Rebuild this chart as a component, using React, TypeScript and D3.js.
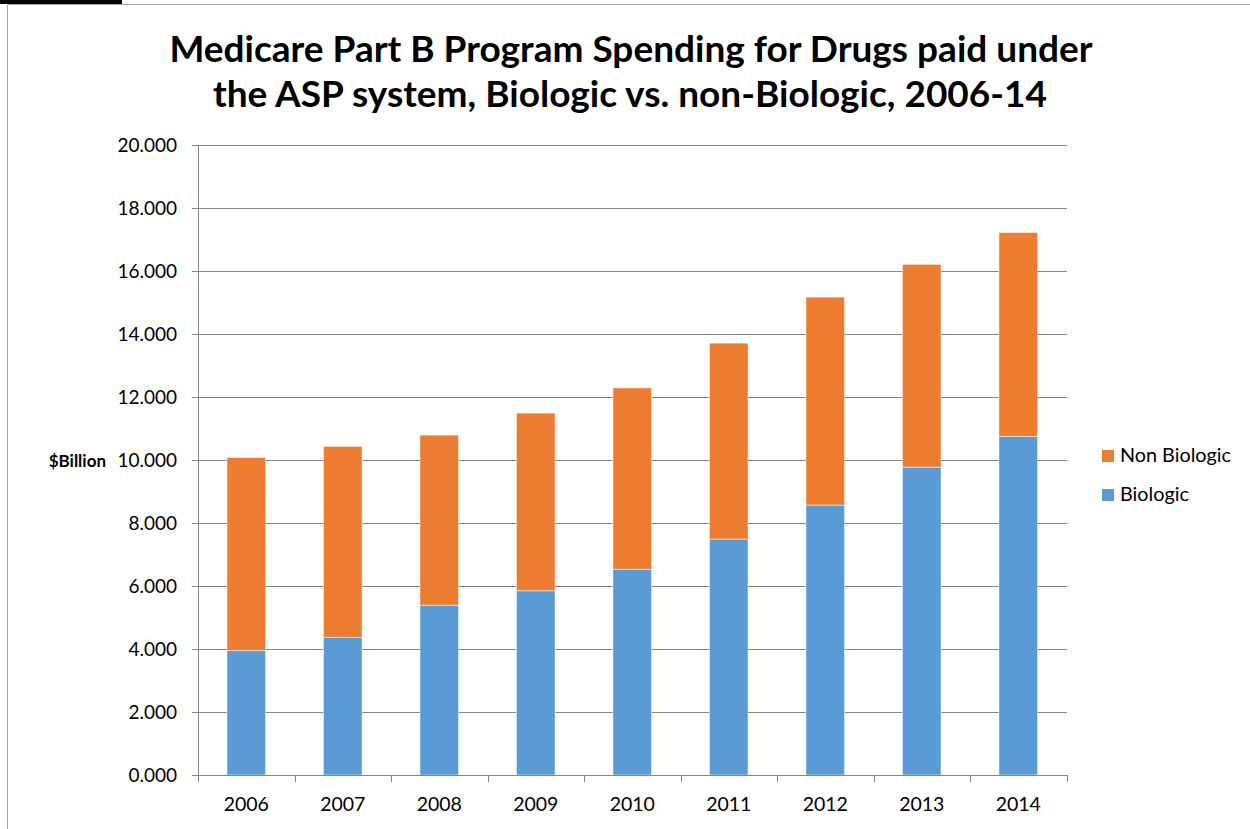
import React from "react";
import * as d3 from "d3";

const years = ["2006", "2007", "2008", "2009", "2010", "2011", "2012", "2013", "2014"];
const biologic = [3.95, 4.37, 5.39, 5.85, 6.53, 7.49, 8.57, 9.77, 10.75];
const nonBiologic = [6.13, 6.06, 5.4, 5.64, 5.76, 6.22, 6.6, 6.44, 6.47];
const yTicks = [0, 2, 4, 6, 8, 10, 12, 14, 16, 18, 20];
const seriesNames = ["Non Biologic", "Biologic"];
const colors = { bio: "#5B9BD5", non: "#ED7D31" };

const W = 1250;
const H = 829;
const FONT = "Lato, 'Open Sans', sans-serif";

export default function App() {
  const x = d3.scaleBand<string>().domain(years).range([198, 1066.5]).paddingInner(0.6).paddingOuter(0.3);
  const y = d3.scaleLinear().domain([0, 20]).range([775, 145]);
  const step = x.step();
  const x0 = 198;

  const rows = years.map((yr, i) => ({ yr, bio: biologic[i], non: nonBiologic[i] }));
  const stack = d3.stack<any>().keys(["bio", "non"])(rows);

  return (
    <svg width={W} height={H} style={{ position: "absolute", left: 0, top: 0, background: "#fff" }} fontFamily={FONT}>
      <rect x={0} y={0} width={W} height={H} fill="#fff" />
      {/* frame */}
      <line x1={7.5} y1={4.5} x2={W} y2={4.5} stroke="#a6a6a6" strokeWidth={1} />
      <line x1={7.5} y1={4.5} x2={7.5} y2={H} stroke="#a6a6a6" strokeWidth={1} />
      <rect x={0} y={0} width={122} height={4} fill="#000" />

      {/* title */}
      <text x={631} y={62} textAnchor="middle" fontSize={37} fontWeight="bold" fill="#000">
        Medicare Part B Program Spending for Drugs paid under
      </text>
      <text x={630} y={107} textAnchor="middle" fontSize={37} fontWeight="bold" fill="#000">
        the ASP system, Biologic vs. non-Biologic, 2006-14
      </text>

      {/* gridlines */}
      {yTicks.map((t) => (
        <g key={t}>
          <line x1={192} x2={1067} y1={Math.round(y(t)) + 0.5} y2={Math.round(y(t)) + 0.5} stroke="#868686" strokeWidth={1} />
          <text x={177} y={y(t) + 7} textAnchor="end" fontSize={19} fill="#000">
            {t.toFixed(3)}
          </text>
        </g>
      ))}

      {/* bars */}
      {stack.map((s) => (
        <g key={s.key} fill={s.key === "bio" ? colors.bio : colors.non}>
          {s.map((d, i) => (
            <rect
              key={i}
              x={x(years[i])}
              y={y(d[1])}
              width={x.bandwidth()}
              height={y(d[0]) - y(d[1])}
              stroke="#fff"
              strokeOpacity={0.5}
              strokeWidth={1}
            />
          ))}
        </g>
      ))}

      {/* axes */}
      <line x1={198.5} x2={198.5} y1={145} y2={775} stroke="#868686" strokeWidth={1} />
      <line x1={192} x2={1067} y1={775.5} y2={775.5} stroke="#868686" strokeWidth={1} />
      {d3.range(years.length + 1).map((i) => (
        <line key={i} x1={Math.round(x0 + i * step) + 0.5} x2={Math.round(x0 + i * step) + 0.5} y1={775} y2={782} stroke="#868686" />
      ))}
      {years.map((yr) => (
        <text key={yr} x={(x(yr) as number) + x.bandwidth() / 2} y={811} textAnchor="middle" fontSize={19.5} fill="#000">
          {yr}
        </text>
      ))}

      {/* y axis title */}
      <text x={106} y={467} textAnchor="end" fontSize={17} fontWeight="bold" fill="#000">
        $Billion
      </text>

      {/* legend */}
      <rect x={1102} y={450} width={12} height={12} fill={colors.non} />
      <text x={1120} y={462} fontSize={19.8} fill="#000">{seriesNames[0]}</text>
      <rect x={1102} y={489} width={12} height={12} fill={colors.bio} />
      <text x={1120} y={501} fontSize={19.8} fill="#000">{seriesNames[1]}</text>
    </svg>
  );
}
